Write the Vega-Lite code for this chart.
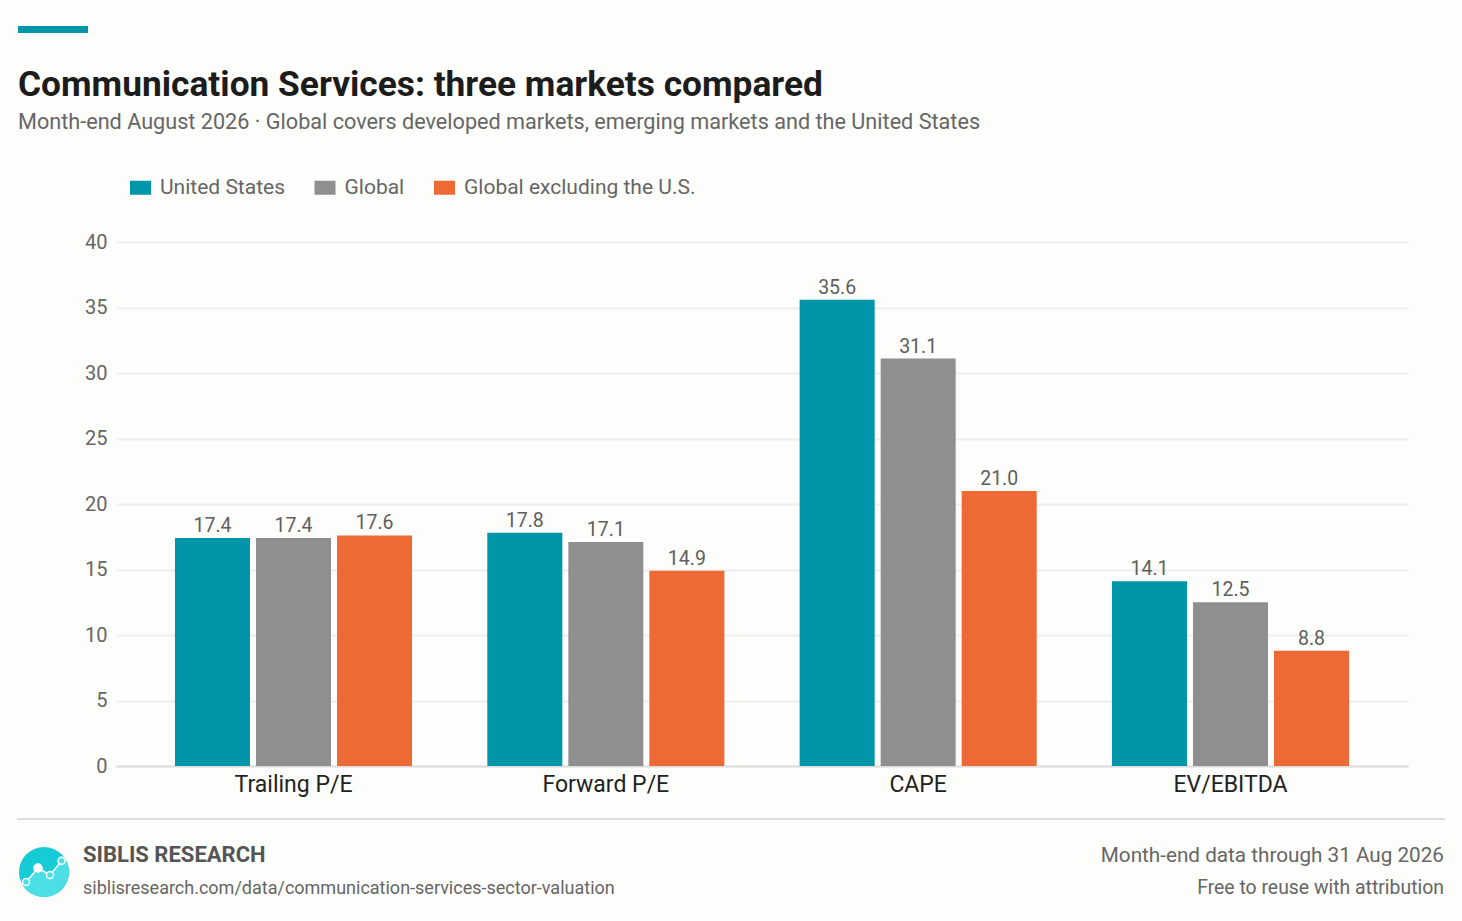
{"$schema":"https://vega.github.io/schema/vega-lite/v6.json","width":1292,"height":524,"autosize":{"type":"none"},"padding":{"left":116,"top":242,"right":54,"bottom":155},"background":"#fdfdfb","title":{"text":"Communication Services: three markets compared","subtitle":"Month-end August 2026 · Global covers developed markets, emerging markets and the United States","anchor":"start","frame":"group","dx":-98,"offset":-108,"font":"Roboto","fontSize":35.3,"fontWeight":"bold","color":"#1c1c1c","subtitleFont":"Roboto","subtitleFontSize":21.65,"subtitleFontWeight":"normal","subtitleColor":"#666666","subtitlePadding":9},"config":{"view":{"stroke":null},"font":"Roboto"},"data":{"values":[{"metric":"Trailing P/E","market":"United States","value":17.4},{"metric":"Trailing P/E","market":"Global","value":17.4},{"metric":"Trailing P/E","market":"Global excluding the U.S.","value":17.6},{"metric":"Forward P/E","market":"United States","value":17.8},{"metric":"Forward P/E","market":"Global","value":17.1},{"metric":"Forward P/E","market":"Global excluding the U.S.","value":14.9},{"metric":"CAPE","market":"United States","value":35.6},{"metric":"CAPE","market":"Global","value":31.1},{"metric":"CAPE","market":"Global excluding the U.S.","value":21.0},{"metric":"EV/EBITDA","market":"United States","value":14.1},{"metric":"EV/EBITDA","market":"Global","value":12.5},{"metric":"EV/EBITDA","market":"Global excluding the U.S.","value":8.8}]},"layer":[{"encoding":{"x":{"field":"metric","type":"nominal","sort":null,"title":null,"scale":{"paddingInner":0.241,"paddingOuter":0.1888},"axis":{"labelAngle":0,"labelFont":"Roboto","labelFontSize":23,"labelColor":"#222222","labelPadding":7,"ticks":false,"domainColor":"#dddddd","domainWidth":2,"grid":false}},"xOffset":{"field":"market","type":"nominal","sort":["United States","Global","Global excluding the U.S."],"scale":{"paddingInner":0.074,"paddingOuter":0}},"y":{"field":"value","type":"quantitative","title":null,"scale":{"domain":[0,40]},"axis":{"values":[0,5,10,15,20,25,30,35,40],"labelFont":"Roboto","labelFontSize":20,"labelColor":"#666666","labelPadding":9,"ticks":false,"domain":false,"gridColor":"#eeeeec","gridWidth":2}}},"layer":[{"mark":{"type":"bar"},"encoding":{"color":{"field":"market","type":"nominal","sort":["United States","Global","Global excluding the U.S."],"scale":{"domain":["United States","Global","Global excluding the U.S."],"range":["#0095a8","#8f8f8f","#ed6a34"]},"legend":{"title":null,"orient":"none","legendX":14,"legendY":-65,"direction":"horizontal","columns":3,"symbolType":"M-1,-0.667H1V0.667H-1Z","symbolSize":441,"symbolStrokeWidth":0,"labelFont":"Roboto","labelFontSize":21,"labelColor":"#666666","labelOffset":9,"labelLimit":400,"columnPadding":29.5}}}},{"mark":{"type":"text","baseline":"alphabetic","dy":-6,"font":"Roboto","fontSize":19.5,"color":"#5e5e5e"},"encoding":{"text":{"field":"value","type":"quantitative","format":".1f"}}}]},{"data":{"values":[{"part":"accent"}]},"mark":{"type":"rect","color":"#0095a8"},"encoding":{"x":{"value":-98},"x2":{"value":-28},"y":{"value":-216},"y2":{"value":-209}}},{"data":{"values":[{"part":"footer rule"}]},"mark":{"type":"rule","color":"#dddddd","strokeWidth":2},"encoding":{"x":{"value":-99},"x2":{"value":1329},"y":{"value":577}}},{"data":{"values":[{"t":"SIBLIS RESEARCH"}]},"mark":{"type":"text","align":"left","baseline":"alphabetic","font":"Roboto","fontSize":22,"fontWeight":"bold","color":"#555555"},"encoding":{"text":{"field":"t"},"x":{"value":-33},"y":{"value":620}}},{"data":{"values":[{"t":"siblisresearch.com/data/communication-services-sector-valuation"}]},"mark":{"type":"text","align":"left","baseline":"alphabetic","font":"Roboto","fontSize":18,"color":"#666666"},"encoding":{"text":{"field":"t"},"x":{"value":-33},"y":{"value":652}}},{"data":{"values":[{"t":"Month-end data through 31 Aug 2026"}]},"mark":{"type":"text","align":"right","baseline":"alphabetic","font":"Roboto","fontSize":20.7,"color":"#666666"},"encoding":{"text":{"field":"t"},"x":{"value":1328},"y":{"value":620}}},{"data":{"values":[{"t":"Free to reuse with attribution"}]},"mark":{"type":"text","align":"right","baseline":"alphabetic","font":"Roboto","fontSize":19.4,"color":"#666666"},"encoding":{"text":{"field":"t"},"x":{"value":1328},"y":{"value":652}}},{"data":{"values":[{"part":"logo disc"}]},"mark":{"type":"point","shape":"circle","filled":true,"opacity":1,"color":"#15ccd6","size":2500},"encoding":{"x":{"value":-72},"y":{"value":630}}},{"data":{"values":[{"part":"logo lower"}]},"mark":{"type":"point","shape":"M-0.9,0.44L-0.73,0.41L-0.24,-0.16L0.24,0.12L0.71,-0.45L0.84,-0.54A1,1,0,1,1,-0.9,0.44Z","filled":true,"opacity":1,"color":"#4bdfe5","size":2500},"encoding":{"x":{"value":-72},"y":{"value":630}}},{"data":{"values":[{"part":"logo line"}]},"mark":{"type":"point","shape":"M-0.73,0.41L-0.24,-0.16L0.24,0.12L0.71,-0.45","filled":false,"opacity":1,"stroke":"#ffffff","strokeWidth":1.5,"size":2500},"encoding":{"x":{"value":-72},"y":{"value":630}}},{"data":{"values":[{"part":"logo node 1"}]},"mark":{"type":"point","shape":"circle","filled":true,"opacity":1,"fill":"#4bdfe5","stroke":"#ffffff","strokeWidth":1.5,"size":50},"encoding":{"x":{"value":-90},"y":{"value":640}}},{"data":{"values":[{"part":"logo node 2"}]},"mark":{"type":"point","shape":"circle","filled":true,"opacity":1,"fill":"#ffffff","size":90},"encoding":{"x":{"value":-78},"y":{"value":626}}},{"data":{"values":[{"part":"logo node 3"}]},"mark":{"type":"point","shape":"circle","filled":true,"opacity":1,"fill":"#4bdfe5","stroke":"#ffffff","strokeWidth":1.5,"size":50},"encoding":{"x":{"value":-66},"y":{"value":633}}},{"data":{"values":[{"part":"logo node 4"}]},"mark":{"type":"point","shape":"circle","filled":true,"opacity":1,"fill":"#4bdfe5","stroke":"#ffffff","strokeWidth":1.5,"size":50},"encoding":{"x":{"value":-54.5},"y":{"value":618.7}}}]}
